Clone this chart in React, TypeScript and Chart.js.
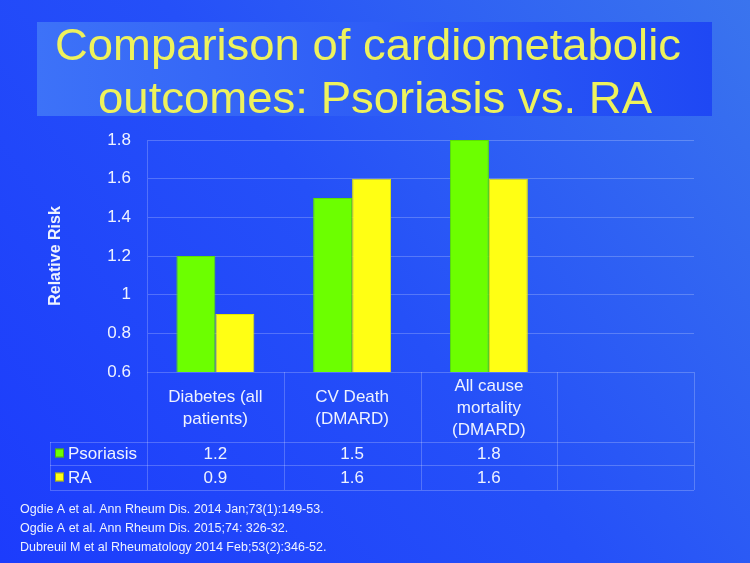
import React, { useEffect, useRef } from "react";
import { Chart, registerables } from "chart.js";

Chart.register(...registerables);

const categories: string[][] = [
  ["Diabetes (all", "patients)"],
  ["CV Death", "(DMARD)"],
  ["All cause", "mortality", "(DMARD)"],
  [],
];
const psoriasis: (number | null)[] = [1.2, 1.5, 1.8, null];
const ra: (number | null)[] = [0.9, 1.6, 1.6, null];
const yTicks: number[] = [0.6, 0.8, 1, 1.2, 1.4, 1.6, 1.8];
const yTickLabels: string[] = ["0.6", "0.8", "1", "1.2", "1.4", "1.6", "1.8"];
const seriesNames = ["Psoriasis", "RA"];
const titleLines = ["Comparison of cardiometabolic", "outcomes: Psoriasis vs. RA"];
const yTitle = "Relative Risk";
const references = [
  "Ogdie A et al. Ann Rheum Dis. 2014 Jan;73(1):149-53.",
  "Ogdie A et al. Ann Rheum Dis. 2015;74: 326-32.",
  "Dubreuil M et al Rheumatology 2014 Feb;53(2):346-52.",
];

const GREEN = "#6cff00";
const YELLOW = "#ffff14";
const FONT = "'Liberation Sans', Arial, sans-serif";
const TEXT = "#eef2ff";
const LINE = "rgba(255,255,255,0.22)";

const fmt = (v: number | null) => (v === null ? "" : String(v));

const slidePlugin = {
  id: "slide",
  beforeDraw(chart: any) {
    const { ctx, width, height } = chart;
    ctx.save();
    const bg = ctx.createLinearGradient(0, height, width, 0);
    bg.addColorStop(0, "#1c3cfc");
    bg.addColorStop(0.5, "#2550f8");
    bg.addColorStop(1, "#3a74ee");
    ctx.fillStyle = bg;
    ctx.fillRect(0, 0, width, height);

    // title box
    const tb = ctx.createLinearGradient(37, 0, 712, 0);
    tb.addColorStop(0, "#3d72f8");
    tb.addColorStop(1, "#1f48f4");
    ctx.fillStyle = tb;
    ctx.fillRect(37, 22, 675, 94);

    ctx.fillStyle = "#eef25c";
    ctx.textBaseline = "alphabetic";
    ctx.textAlign = "left";
    ctx.font = `45px ${FONT}`;
    const spans = [
      [55, 681, 60],
      [98, 652, 113],
    ];
    titleLines.forEach((t, i) => {
      const [x0, x1, base] = spans[i];
      const w = ctx.measureText(t).width;
      const s = (x1 - x0) / w;
      ctx.save();
      ctx.translate(x0, base);
      ctx.scale(s, 1);
      ctx.fillText(t, 0, 0);
      ctx.restore();
    });
    ctx.restore();
  },
  afterDraw(chart: any) {
    const { ctx } = chart;
    const area = chart.chartArea;
    const x = chart.scales.x;
    const n = categories.length;
    const step = (area.right - area.left) / n;
    ctx.save();

    // y axis title
    ctx.fillStyle = TEXT;
    ctx.font = `bold 16px ${FONT}`;
    ctx.textAlign = "center";
    ctx.textBaseline = "middle";
    ctx.save();
    ctx.translate(56, (area.top + area.bottom) / 2);
    ctx.rotate(-Math.PI / 2);
    ctx.fillText(yTitle, 0, 0);
    ctx.restore();

    // table
    const headerTop = area.bottom;
    const row1 = 442;
    const row2 = 465;
    const row3 = 490;
    const legendLeft = 50;
    ctx.strokeStyle = LINE;
    ctx.lineWidth = 1;
    ctx.beginPath();
    for (let i = 0; i <= n; i++) {
      const lx = Math.round(area.left + i * step) + 0.5;
      ctx.moveTo(lx, headerTop);
      ctx.lineTo(lx, row3);
    }
    ctx.moveTo(legendLeft + 0.5, row1);
    ctx.lineTo(legendLeft + 0.5, row3);
    [row1, row2, row3].forEach((ry) => {
      ctx.moveTo(legendLeft, ry + 0.5);
      ctx.lineTo(area.right, ry + 0.5);
    });
    ctx.stroke();

    ctx.font = `17px ${FONT}`;
    ctx.fillStyle = TEXT;
    ctx.textAlign = "center";
    ctx.textBaseline = "middle";
    categories.forEach((lines, i) => {
      const cx = x.getPixelForValue(i);
      const lh = 22;
      const mid = (headerTop + row1) / 2;
      const start = mid - ((lines.length - 1) * lh) / 2;
      lines.forEach((l, j) => ctx.fillText(l, cx, start + j * lh + 1));
      ctx.fillText(fmt(psoriasis[i]), cx, (row1 + row2) / 2 + 1);
      ctx.fillText(fmt(ra[i]), cx, (row2 + row3) / 2 + 1);
    });

    // legend
    const rows = [(row1 + row2) / 2, (row2 + row3) / 2];
    const colors = [GREEN, YELLOW];
    rows.forEach((cy, i) => {
      ctx.fillStyle = colors[i];
      ctx.fillRect(55, cy - 5, 9, 9);
      ctx.strokeStyle = "rgba(60,80,40,0.5)";
      ctx.strokeRect(55.5, cy - 4.5, 8, 8);
      ctx.fillStyle = TEXT;
      ctx.textAlign = "left";
      ctx.fillText(seriesNames[i], 68, cy + 1);
    });

    // references
    ctx.font = `12.5px ${FONT}`;
    ctx.textAlign = "left";
    ctx.textBaseline = "middle";
    ctx.fillStyle = TEXT;
    references.forEach((r, i) => ctx.fillText(r, 20, 510 + i * 19));
    ctx.restore();
  },
};

export default function App() {
  const ref = useRef<HTMLCanvasElement | null>(null);
  useEffect(() => {
    if (!ref.current) return;
    const chart = new Chart(ref.current, {
      type: "bar",
      data: {
        labels: categories.map((c) => c.join(" ")),
        datasets: [
          {
            label: seriesNames[0],
            data: psoriasis,
            backgroundColor: GREEN,
            borderColor: "#5ee000",
            borderWidth: 1,
          },
          {
            label: seriesNames[1],
            data: ra,
            backgroundColor: YELLOW,
            borderColor: "#e6e600",
            borderWidth: 1,
          },
        ],
      },
      options: {
        animation: false,
        responsive: false,
        maintainAspectRatio: false,
        layout: { padding: { left: 0, top: 140, right: 56, bottom: 191 } },
        plugins: {
          legend: { display: false },
          title: { display: false },
          tooltip: { enabled: false },
        },
        datasets: { bar: { categoryPercentage: 0.57, barPercentage: 1.0 } },
        scales: {
          x: { display: false },
          y: {
            min: 0.6,
            max: 1.8,
            afterFit: (s: any) => {
              s.width = 147;
            },
            afterBuildTicks: (s: any) => {
              s.ticks = yTicks.map((v) => ({ value: v }));
            },
            ticks: {
              color: TEXT,
              font: { family: FONT, size: 17 },
              padding: 16,
              callback: (v: any) => {
                const i = yTicks.findIndex((t) => Math.abs(t - Number(v)) < 1e-6);
                return i >= 0 ? yTickLabels[i] : "";
              },
            },
            grid: { color: LINE, drawTicks: false },
            border: { display: true, color: LINE },
          },
        },
      },
      plugins: [slidePlugin],
    });
    return () => chart.destroy();
  }, []);
  return (
    <div style={{ position: "fixed", left: 0, top: 0, width: 750, height: 563 }}>
      <canvas ref={ref} width={750} height={563} style={{ width: 750, height: 563, display: "block" }} />
    </div>
  );
}
